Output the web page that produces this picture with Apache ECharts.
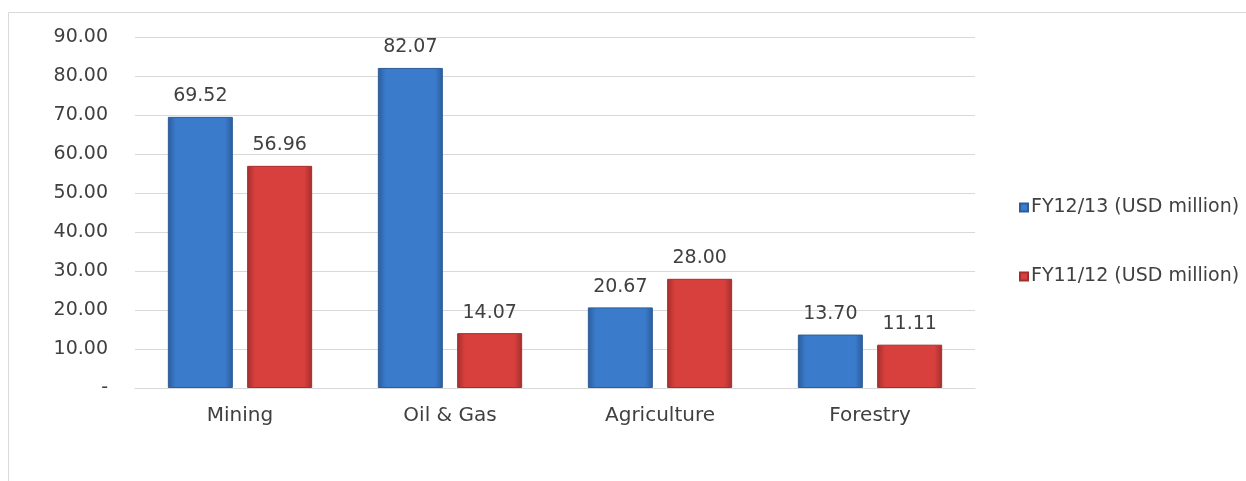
<!DOCTYPE html>
<html>
<head>
<meta charset="utf-8">
<script src="https://cdn.jsdelivr.net/npm/echarts@6/dist/echarts.min.js"></script>
<style>
html,body{margin:0;padding:0;background:#fff;}
#chart{width:1246px;height:481px;}
</style>
</head>
<body>
<div id="chart"></div>
<script>
const categories = ['Mining', 'Oil & Gas', 'Agriculture', 'Forestry'];
const seriesNames = ['FY12/13 (USD million)', 'FY11/12 (USD million)'];
const fy1213 = [69.52, 82.07, 20.67, 13.70];
const fy1112 = [56.96, 14.07, 28.00, 11.11];

function bevel(edge, mid) {
  return new echarts.graphic.LinearGradient(0, 0, 1, 0, [
    {offset: 0, color: edge},
    {offset: 0.12, color: mid},
    {offset: 0.88, color: mid},
    {offset: 1, color: edge}
  ]);
}

const chart = echarts.init(document.getElementById('chart'));
const font = 'DejaVu Sans, sans-serif';
const labelCfg = {
  show: true, position: 'top', distance: 11,
  color: '#404040', fontSize: 19, fontFamily: font,
  formatter: p => p.value.toFixed(2)
};
chart.setOption({
  animation: false,
  textStyle: {fontFamily: font},
  graphic: [{
    type: 'rect', z: -10,
    shape: {x: 8.5, y: 12.5, width: 1300, height: 1000},
    style: {fill: 'none', stroke: '#d9d9d9', lineWidth: 1}
  }],
  grid: {left: 135, right: 271, top: 37, bottom: 93},
  legend: {
    orient: 'vertical', left: 1014, top: 193, itemGap: 50,
    itemWidth: 8, itemHeight: 8, icon: 'rect',
    textStyle: {color: '#404040', fontSize: 19, fontFamily: font, padding: [0, 0, 0, -2]},
    data: seriesNames
  },
  xAxis: {
    type: 'category', data: categories,
    axisLine: {lineStyle: {color: '#d9d9d9'}},
    axisTick: {show: false},
    axisLabel: {color: '#404040', fontSize: 20, margin: 18, fontFamily: font}
  },
  yAxis: {
    type: 'value', min: 0, max: 90, interval: 10,
    axisLine: {show: false}, axisTick: {show: false},
    splitLine: {lineStyle: {color: '#d9d9d9'}},
    axisLabel: {
      color: '#404040', fontSize: 19, margin: 27, fontFamily: font,
      formatter: v => v === 0 ? '-' : v.toFixed(2)
    }
  },
  series: [
    {
      name: seriesNames[0], type: 'bar', data: fy1213,
      barWidth: 65, barGap: '22%',
      itemStyle: {color: bevel('#2b5c9a', '#3b7bcc'), borderColor: '#2d5d98', borderWidth: 1},
      label: labelCfg
    },
    {
      name: seriesNames[1], type: 'bar', data: fy1112,
      barWidth: 65,
      itemStyle: {color: bevel('#a52e2c', '#d7403d'), borderColor: '#a32f2d', borderWidth: 1},
      label: labelCfg
    }
  ]
});
</script>
</body>
</html>
